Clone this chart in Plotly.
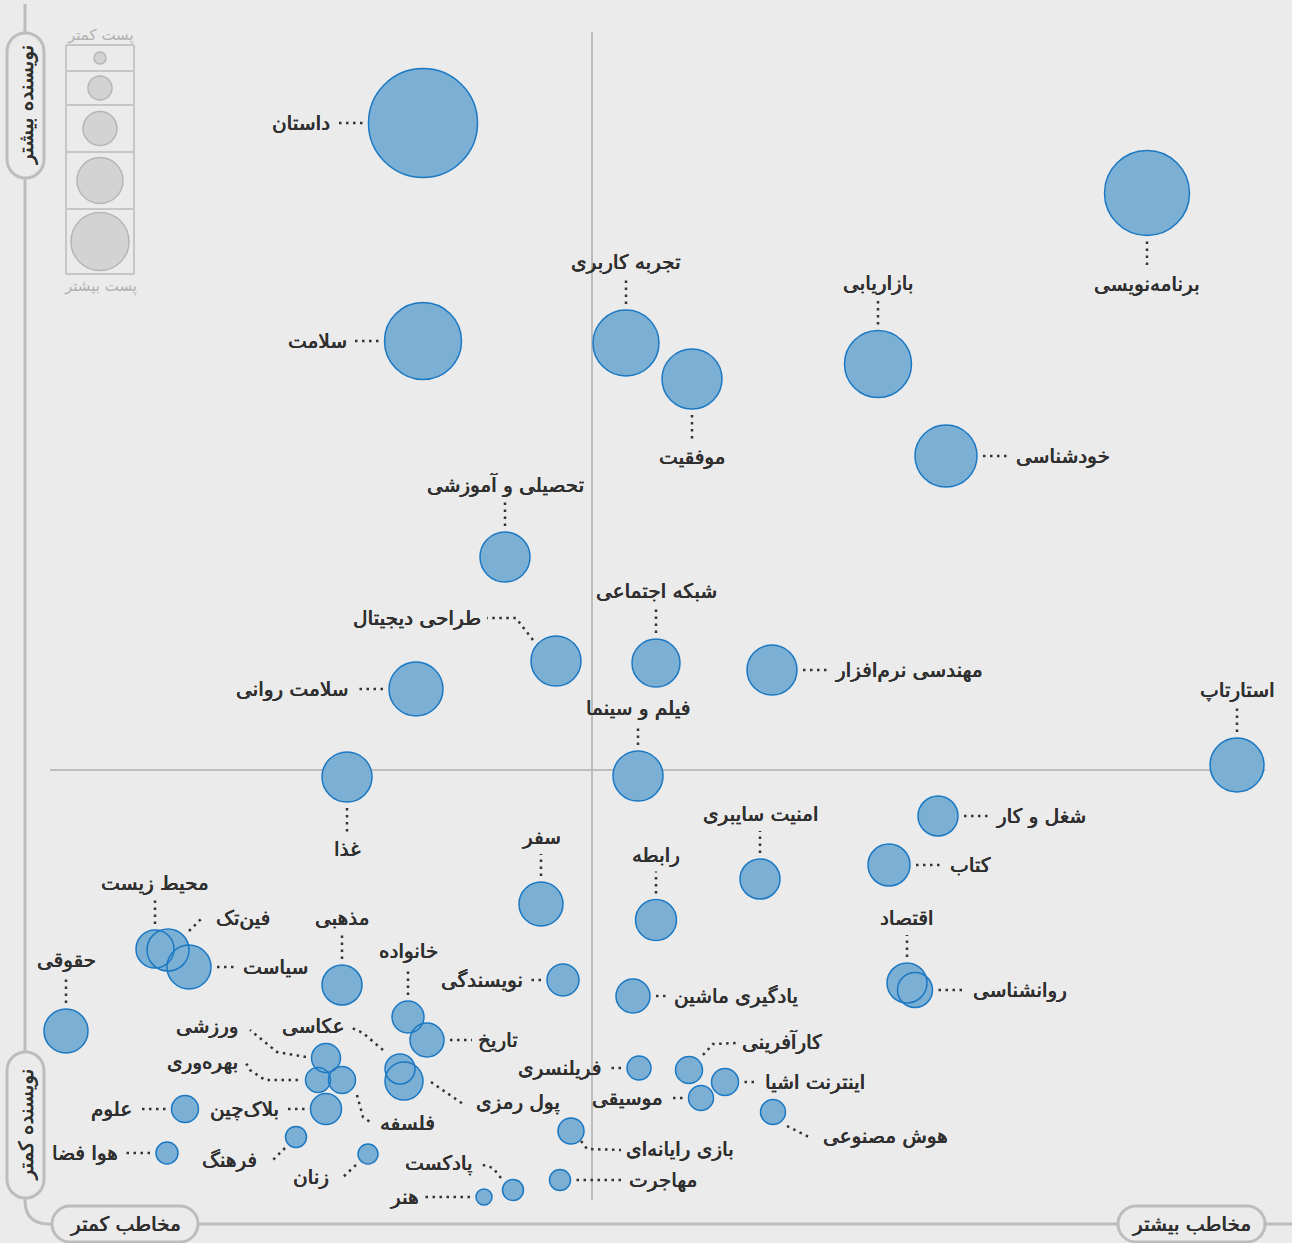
import plotly.graph_objects as go

W, H = 1292, 1243

# ---------------- data ----------------
topics = ["داستان", "برنامه‌نویسی", "سلامت", "تجربه کاربری", "موفقیت", "بازاریابی", "خودشناسی",
          "تحصیلی و آموزشی", "طراحی دیجیتال", "شبکه اجتماعی", "سلامت روانی", "مهندسی نرم‌افزار",
          "استارتاپ", "فیلم و سینما", "غذا", "شغل و کار", "کتاب", "امنیت سایبری", "سفر", "رابطه",
          "اقتصاد", "روانشناسی", "محیط زیست", "فین‌تک", "سیاست", "حقوقی", "مذهبی", "خانواده",
          "تاریخ", "نویسندگی", "یادگیری ماشین", "عکاسی", "پول رمزی", "ورزشی", "بهره‌وری", "فلسفه",
          "بلاک‌چین", "علوم", "هوا فضا", "فرهنگ", "زنان", "پادکست", "هنر", "مهاجرت",
          "بازی رایانه‌ای", "فریلنسری", "موسیقی", "کارآفرینی", "اینترنت اشیا", "هوش مصنوعی"]

audience = [423, 1147, 423, 626, 692, 878, 946, 505, 556, 656, 416, 772, 1237, 638, 347, 938,
            889, 760, 541, 656, 907, 915, 155, 168, 189, 66, 342, 408, 427, 563, 633, 400, 404,
            326, 318, 342, 326, 185, 167, 296, 368, 513, 484, 560, 571, 639, 701, 689, 725, 773]

writers = [1120, 1050, 902, 900, 864, 879, 787, 686, 582, 580, 554, 573, 478, 467, 466, 427,
           378, 364, 339, 323, 260, 253, 294, 293, 276, 212, 258, 226, 203, 263, 247, 174, 162,
           185, 163, 163, 134, 134, 90, 106, 89, 53, 46, 63, 112, 175, 145, 173, 161, 131]

posts = [109, 85, 77, 66, 60, 67, 62, 50, 50, 48, 54, 50, 54, 50, 50, 40, 42, 40, 44, 41, 40,
         35, 38, 42, 44, 44, 40, 32, 34, 32, 34, 30, 38, 29, 25, 27, 31, 27, 22, 21, 20, 21,
         16, 21, 26, 24, 25, 27, 27, 25]

legend_posts = [12, 24, 34, 46, 58]

axis_labels = {"top": "نویسنده بیشتر", "bottom": "نویسنده کمتر",
               "left": "مخاطب کمتر", "right": "مخاطب بیشتر"}
legend_labels = ("پست کمتر", "پست بیشتر")

# ---------------- label placement (layout) ----------------
# side: L/R/T/B with leader length; P: custom leader path (pixel offsets, y down), text offset, anchor
LAB = {
    "داستان": ("L", 27), "برنامه‌نویسی": ("B", 25), "سلامت": ("L", 26),
    "تجربه کاربری": ("T", 25), "موفقیت": ("B", 25), "بازاریابی": ("T", 25),
    "خودشناسی": ("R", 27), "تحصیلی و آموزشی": ("T", 25),
    "طراحی دیجیتال": ("P", [(-23, -21), (-40, -43), (-69, -43)], (-73, -43), "right"),
    "شبکه اجتماعی": ("T", 25), "سلامت روانی": ("L", 28), "مهندسی نرم‌افزار": ("R", 26),
    "استارتاپ": ("T", 25), "فیلم و سینما": ("T", 20), "غذا": ("B", 24),
    "شغل و کار": ("R", 26), "کتاب": ("R", 28), "امنیت سایبری": ("T", 22), "سفر": ("T", 22),
    "رابطه": ("T", 22), "اقتصاد": ("T", 22), "روانشناسی": ("R", 28), "محیط زیست": ("T", 24),
    "فین‌تک": ("P", [(21, -19), (33, -31)], (46, -32), "left"),
    "سیاست": ("R", 20), "حقوقی": ("T", 26), "مذهبی": ("T", 24), "خانواده": ("T", 27),
    "تاریخ": ("R", 22), "نویسندگی": ("L", 12), "یادگیری ماشین": ("R", 12),
    "عکاسی": ("P", [(-17, -19), (-37, -36), (-50, -42)], (-53, -43), "right"),
    "پول رمزی": ("P", [(27, 1), (59, 23)], (70, 21), "left"),
    "ورزشی": ("P", [(-20, -1), (-49, -6), (-76, -28)], (-86, -32), "right"),
    "بهره‌وری": ("P", [(-20, 0), (-53, 0), (-68, -10), (-72, -17)], (-78, -18), "right"),
    "فلسفه": ("P", [(15, 15), (21, 37), (31, 44)], (36, 43), "left"),
    "بلاک‌چین": ("L", 20), "علوم": ("L", 28), "هوا فضا": ("L", 26),
    "فرهنگ": ("P", [(-11, 11), (-25, 25)], (-37, 23), "right"),
    "زنان": ("P", [(-12, 11), (-26, 24)], (-37, 23), "right"),
    "پادکست": ("P", [(-12, -12), (-20, -22), (-33, -26)], (-38, -27), "right"),
    "هنر": ("L", 45), "مهاجرت": ("R", 46),
    "بازی رایانه‌ای": ("P", [(10, 10), (16, 18), (50, 19)], (53, 18), "left"),
    "فریلنسری": ("L", 14), "موسیقی": ("L", 14),
    "کارآفرینی": ("P", [(14, -15), (24, -26), (48, -27)], (51, -29), "left"),
    "اینترنت اشیا": ("R", 14),
    "هوش مصنوعی": ("P", [(14, 14), (38, 26)], (48, 24), "left"),
}

BG = "#ebebeb"
FRAME = "#bdbdbd"
TXT = "#303030"
FONT = "DejaVu Sans"
LSIZE = 20
SHADOW = "0.35px 0 0 #303030, -0.35px 0 0 #303030"


def Y(py):
    return H - py


def lfont(size=LSIZE, color=TXT, shadow=SHADOW):
    return dict(family=FONT, size=size, color=color, shadow=shadow)


fig = go.Figure()

# ---------------- decoration shapes ----------------
shapes = []
shapes.append(dict(type="path", layer="below",
                   path=f"M 25,{Y(4)} L 25,{Y(1200)} Q 25,{Y(1224)} 49,{Y(1224)} L {W},{Y(1224)}",
                   line=dict(color=FRAME, width=3)))
shapes.append(dict(type="line", layer="below", x0=592, x1=592, y0=Y(32), y1=Y(1200),
                   line=dict(color=FRAME, width=2)))
shapes.append(dict(type="line", layer="below", x0=50, x1=1265, y0=Y(770), y1=Y(770),
                   line=dict(color=FRAME, width=2)))


def pill(x0, y0, x1, y1):
    r = min(x1 - x0, y1 - y0) / 2.0
    k = 0.5523 * r
    p = [f"M {x0 + r},{Y(y0)}", f"L {x1 - r},{Y(y0)}",
         f"C {x1 - r + k},{Y(y0)} {x1},{Y(y0 + r - k)} {x1},{Y(y0 + r)}",
         f"L {x1},{Y(y1 - r)}",
         f"C {x1},{Y(y1 - r + k)} {x1 - r + k},{Y(y1)} {x1 - r},{Y(y1)}",
         f"L {x0 + r},{Y(y1)}",
         f"C {x0 + r - k},{Y(y1)} {x0},{Y(y1 - r + k)} {x0},{Y(y1 - r)}",
         f"L {x0},{Y(y0 + r)}",
         f"C {x0},{Y(y0 + r - k)} {x0 + r - k},{Y(y0)} {x0 + r},{Y(y0)}", "Z"]
    return dict(type="path", layer="below", path=" ".join(p), fillcolor=BG,
                line=dict(color=FRAME, width=3))


pills = {"top": (7, 33, 44, 178), "bottom": (7, 1052, 44, 1198),
         "left": (52, 1206, 198, 1242), "right": (1118, 1206, 1265, 1242)}
for key, (a, b, c, d) in pills.items():
    shapes.append(pill(a, b, c, d))

cells = [45, 71, 105, 152, 209, 274]
for yy in cells:
    shapes.append(dict(type="line", layer="below", x0=66, x1=134, y0=Y(yy), y1=Y(yy),
                       line=dict(color="#c6c6c6", width=2)))
for xx in (66, 134):
    shapes.append(dict(type="line", layer="below", x0=xx, x1=xx, y0=Y(cells[0]), y1=Y(cells[-1]),
                       line=dict(color="#c6c6c6", width=2)))

# ---------------- size legend circles ----------------
leg_y = [Y((cells[i] + cells[i + 1]) / 2) for i in range(len(legend_posts))]
fig.add_trace(go.Scatter(x=[100] * len(legend_posts), y=leg_y, mode="markers",
                         marker=dict(size=legend_posts, color="#d3d3d3", opacity=1,
                                     line=dict(color="#b6b6b6", width=1.5)),
                         hoverinfo="skip", showlegend=False))

# ---------------- leaders and labels ----------------
lx, ly = [], []
annotations = []
for t, cx, wy, d in zip(topics, audience, writers, posts):
    cy = Y(wy)
    r = d / 2.0
    spec = LAB[t]
    g = 6
    side = spec[0]
    if side == "P":
        pts, (tdx, tdy), anchor = spec[1], spec[2], spec[3]
        for (dx, dy) in pts:
            lx.append(cx + dx)
            ly.append(Y(cy + dy))
        lx.append(None); ly.append(None)
        annotations.append(dict(x=cx + tdx, y=Y(cy + tdy), text=t, showarrow=False,
                                xanchor=anchor, yanchor="middle", font=lfont()))
        continue
    n = spec[1]
    if side == "L":
        a, b = cx - r - g, cx - r - g - n
        lx += [a, b, None]; ly += [Y(cy), Y(cy), None]
        annotations.append(dict(x=b - 4, y=Y(cy), text=t, showarrow=False, xanchor="right",
                                yanchor="middle", font=lfont()))
    elif side == "R":
        a, b = cx + r + g, cx + r + g + n
        lx += [a, b, None]; ly += [Y(cy), Y(cy), None]
        annotations.append(dict(x=b + 4, y=Y(cy), text=t, showarrow=False, xanchor="left",
                                yanchor="middle", font=lfont()))
    elif side == "T":
        a, b = cy - r - g, cy - r - g - n
        lx += [cx, cx, None]; ly += [Y(a), Y(b), None]
        annotations.append(dict(x=cx, y=Y(b - 17), text=t, showarrow=False, xanchor="center",
                                yanchor="middle", font=lfont()))
    else:
        a, b = cy + r + g, cy + r + g + n
        lx += [cx, cx, None]; ly += [Y(a), Y(b), None]
        annotations.append(dict(x=cx, y=Y(b + 17), text=t, showarrow=False, xanchor="center",
                                yanchor="middle", font=lfont()))

fig.add_trace(go.Scatter(x=lx, y=ly, mode="lines", connectgaps=False,
                         line=dict(color="#333333", width=2.5, dash="2.5px,4.5px"),
                         hoverinfo="skip", showlegend=False))

# ---------------- bubbles ----------------
fig.add_trace(go.Scatter(x=audience, y=writers, mode="markers", text=topics,
                         marker=dict(size=posts, color="#7bafd4", opacity=1, line=dict(width=0)),
                         hovertemplate="%{text}<extra></extra>", showlegend=False))
fig.add_trace(go.Scatter(x=audience, y=writers, mode="markers",
                         marker=dict(size=posts, color="rgba(0,0,0,0)", opacity=1,
                                     line=dict(color="#1b78c3", width=1.5)),
                         hoverinfo="skip", showlegend=False))

# ---------------- axis pill texts ----------------
for key, (a, b, c, d) in pills.items():
    annotations.append(dict(x=(a + c) / 2, y=Y((b + d) / 2), text=axis_labels[key],
                            showarrow=False, textangle=-90 if key in ("top", "bottom") else 0,
                            xanchor="center", yanchor="middle", font=lfont(size=20)))

annotations.append(dict(x=100, y=Y(35), text=legend_labels[0], showarrow=False,
                        font=dict(family=FONT, size=15, color="#b0b0b0")))
annotations.append(dict(x=100, y=Y(286), text=legend_labels[1], showarrow=False,
                        font=dict(family=FONT, size=15, color="#b0b0b0")))

fig.update_layout(
    width=W, height=H, autosize=False,
    margin=dict(l=0, r=0, t=0, b=0, pad=0),
    paper_bgcolor=BG, plot_bgcolor=BG,
    xaxis=dict(range=[0, W], visible=False, fixedrange=True),
    yaxis=dict(range=[0, H], visible=False, fixedrange=True),
    shapes=shapes, annotations=annotations,
    showlegend=False,
    font=dict(family=FONT),
)

fig.write_html("out.html", config={"displayModeBar": False},
               post_script="document.body.style.margin='0';document.body.style.overflow='hidden';")
